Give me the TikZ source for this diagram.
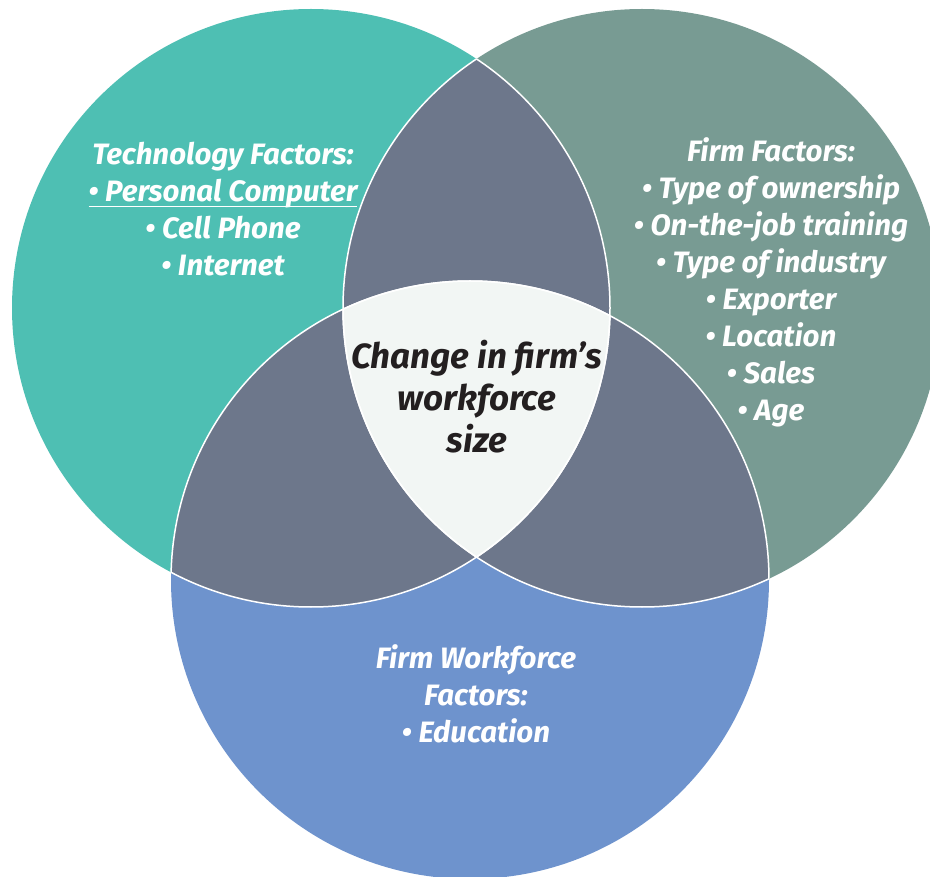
\documentclass[tikz,border=0pt]{standalone}
\usepackage{fontspec}
\setmainfont{Fira Sans}
\definecolor{techcol}{HTML}{4EBFB3}
\definecolor{firmcol}{HTML}{789B93}
\definecolor{workcol}{HTML}{6E93CD}
\definecolor{overlapcol}{HTML}{6D778B}
\definecolor{corecol}{HTML}{F2F6F4}
\definecolor{inkcol}{HTML}{231F20}
\tikzset{
  label/.style={text=white, align=center, font=\fontsize{29.5}{37}\selectfont\bfseries\itshape, inner sep=0pt},
  corelabel/.style={text=inkcol, align=center, font=\fontsize{35}{42}\selectfont\bfseries\itshape, inner sep=0pt},
  seam/.style={draw=white, line width=1.5pt}
}
% underline set a fixed distance below the baseline
\newcommand{\tightul}[1]{\underline{\smash{#1}\rule[-3pt]{0pt}{0pt}}}
\begin{document}
\begin{tikzpicture}[x=1pt,y=-1pt]
\useasboundingbox (0,0) rectangle (930,877);
\clip (0,0) rectangle (930,877);
% circle centres and common radius
\def\R{299}
\coordinate (T) at (311,308);
\coordinate (F) at (642,308);
\coordinate (W) at (470,580);
% base discs
\fill[techcol] (T) circle (\R);
\fill[firmcol] (F) circle (\R);
\fill[workcol] (W) circle (\R);
% pairwise overlaps
\begin{scope}\clip (T) circle (\R); \fill[overlapcol] (F) circle (\R); \fill[overlapcol] (W) circle (\R);\end{scope}
\begin{scope}\clip (F) circle (\R); \fill[overlapcol] (W) circle (\R);\end{scope}
% triple overlap
\begin{scope}\clip (T) circle (\R); \clip (F) circle (\R); \fill[corecol] (W) circle (\R);\end{scope}
% white seams on arcs lying inside another disc
\begin{scope}\clip (T) circle (\R); \draw[seam] (F) circle (\R); \draw[seam] (W) circle (\R);\end{scope}
\begin{scope}\clip (F) circle (\R); \draw[seam] (T) circle (\R); \draw[seam] (W) circle (\R);\end{scope}
\begin{scope}\clip (W) circle (\R); \draw[seam] (T) circle (\R); \draw[seam] (F) circle (\R);\end{scope}
% labels
\node[label] (tech) at (223,209) {Technology Factors:\\ \tightul{• Personal Computer}\\ • Cell Phone\\ • Internet};
\node[label] (firm) at (771,282) {Firm Factors:\\ • Type of ownership\\ • On-the-job training\\ • Type of industry\\ • Exporter\\ • Location\\ • Sales\\ • Age};
\node[corelabel] (core) at (477,397) {Change in firm’s\\ workforce\\ size};
\node[label] (work) at (476,694) {Firm Workforce\\ Factors:\\ • Education};
\end{tikzpicture}
\end{document}
